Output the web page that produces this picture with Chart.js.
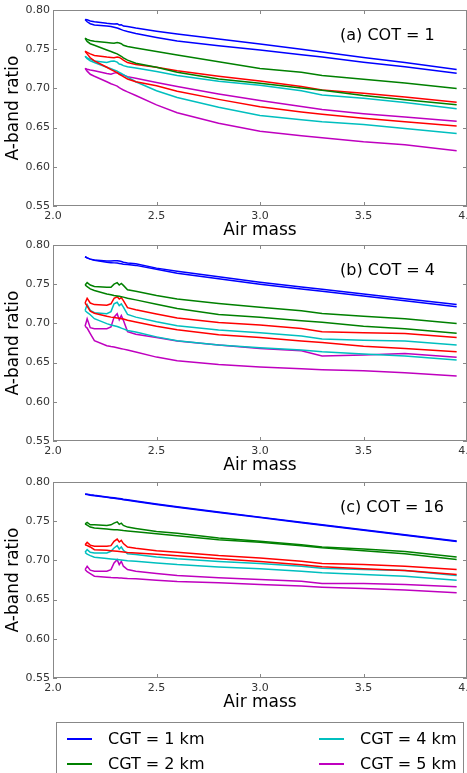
<!DOCTYPE html>
<html>
<head>
<meta charset="utf-8">
<script src="https://cdn.jsdelivr.net/npm/chart.js@4/dist/chart.umd.min.js"></script>
<style>
  html, body { margin: 0; padding: 0; background: #fff; overflow: hidden; width: 467px; height: 773px; }
  body { position: relative; font-family: "DejaVu Sans", sans-serif; }
  .pane { position: absolute; left: 0; width: 467px; height: 240px; }
  #legend { position: absolute; left: 56px; top: 722px; width: 408px; height: 80px; border: 1px solid #888; box-sizing: border-box; }
  .item { position: absolute; font-size: 16px; color: #000; line-height: 20px; white-space: nowrap; }
  .item i { position: absolute; top: 9px; width: 25px; height: 0; border-top: 2px solid; }
  .item span { position: absolute; left: 41px; top: 0; }
</style>
</head>
<body>
<div class="pane" style="top:0px"><canvas id="ca"></canvas></div>
<div class="pane" style="top:235px"><canvas id="cb"></canvas></div>
<div class="pane" style="top:472px"><canvas id="cc"></canvas></div>
<div id="legend"></div>
<script>
// Air mass values (x)
const AM = [2.155, 2.165, 2.18, 2.2, 2.26, 2.28, 2.295, 2.31, 2.32, 2.33, 2.34, 2.36, 2.4, 2.5, 2.6, 2.8, 3.0, 3.2, 3.3, 3.5, 3.7, 3.95];

// Legend categories and colours
const CGT_LABELS = ["CGT = 1 km", "CGT = 2 km", "CGT = 3 km", "CGT = 4 km", "CGT = 5 km"];
const CGT_COLORS = ["#0000ff", "#008000", "#ff0000", "#00bfbf", "#bf00bf"];
const PANEL_LABELS = ["(a) COT = 1", "(b) COT = 4", "(c) COT = 16"];
const X_TICKS = [2.0, 2.5, 3.0, 3.5, 4.0];
const Y_TICKS = [0.55, 0.60, 0.65, 0.70, 0.75, 0.80];

// Panel (a) COT = 1
const a_blue1 = [0.788,0.7875,0.786,0.785,0.783,0.7825,0.782,0.7825,0.781,0.7812,0.7795,0.779,0.777,0.773,0.7695,0.763,0.7565,0.750,0.7465,0.7395,0.733,0.7242];
const a_blue2 = [0.788,0.785,0.7825,0.781,0.7795,0.779,0.778,0.777,0.776,0.775,0.774,0.7725,0.770,0.765,0.7605,0.7545,0.749,0.743,0.740,0.7335,0.7275,0.7192];
const a_green1 = [0.764,0.7625,0.761,0.760,0.7585,0.758,0.7575,0.7585,0.758,0.757,0.755,0.7535,0.7515,0.747,0.7425,0.734,0.7255,0.7205,0.7165,0.7118,0.7068,0.700];
const a_green2 = [0.764,0.760,0.757,0.755,0.749,0.747,0.7455,0.744,0.7425,0.741,0.739,0.736,0.732,0.727,0.7205,0.712,0.7067,0.7005,0.6975,0.6908,0.6855,0.679];
const a_red1 = [0.7474,0.746,0.744,0.742,0.740,0.7395,0.739,0.740,0.7395,0.738,0.736,0.733,0.7305,0.727,0.7225,0.7155,0.7095,0.7025,0.698,0.6937,0.689,0.6824];
const a_red2 = [0.7474,0.744,0.739,0.735,0.727,0.724,0.722,0.720,0.718,0.7165,0.715,0.712,0.7085,0.7035,0.6965,0.686,0.6765,0.670,0.667,0.662,0.6575,0.652];
const a_cyan1 = [0.741,0.739,0.737,0.735,0.733,0.7345,0.7348,0.7335,0.731,0.7305,0.729,0.7275,0.726,0.7215,0.7165,0.709,0.704,0.697,0.6915,0.6874,0.682,0.674];
const a_cyan2 = [0.741,0.738,0.735,0.733,0.727,0.725,0.7235,0.722,0.7205,0.719,0.7175,0.7145,0.7085,0.697,0.6885,0.676,0.6655,0.660,0.6575,0.6538,0.649,0.6424];
const a_mag1 = [0.7256,0.7245,0.7235,0.7225,0.719,0.718,0.7195,0.7202,0.719,0.7175,0.717,0.715,0.713,0.7076,0.7025,0.693,0.6845,0.677,0.673,0.6677,0.6635,0.658];
const a_mag2 = [0.7256,0.722,0.718,0.7155,0.7085,0.706,0.7045,0.703,0.701,0.6995,0.698,0.6955,0.691,0.679,0.669,0.6555,0.6454,0.6395,0.637,0.6319,0.628,0.6206];

// Panel (b) COT = 4
const b_blue1 = [0.785,0.7835,0.782,0.781,0.7795,0.7795,0.780,0.780,0.7795,0.779,0.778,0.777,0.776,0.7705,0.7665,0.7595,0.7525,0.7465,0.7435,0.7375,0.7315,0.7242];
const b_blue2 = [0.785,0.7835,0.782,0.7805,0.778,0.7775,0.7772,0.777,0.7765,0.776,0.7755,0.775,0.774,0.769,0.764,0.757,0.750,0.744,0.741,0.735,0.729,0.7213];
const b_green1 = [0.749,0.752,0.749,0.747,0.746,0.746,0.750,0.752,0.749,0.751,0.7485,0.743,0.741,0.7355,0.731,0.7255,0.7207,0.716,0.7125,0.709,0.706,0.700];
const b_green2 = [0.749,0.747,0.744,0.742,0.7376,0.7365,0.7355,0.735,0.7345,0.734,0.7335,0.732,0.730,0.7245,0.719,0.7115,0.708,0.7035,0.7015,0.6965,0.6933,0.6875];
const b_red1 = [0.726,0.732,0.726,0.724,0.7233,0.725,0.732,0.734,0.731,0.733,0.729,0.720,0.7174,0.712,0.707,0.701,0.698,0.6935,0.6895,0.688,0.687,0.682];
const b_red2 = [0.726,0.722,0.7157,0.713,0.709,0.708,0.7075,0.707,0.7065,0.706,0.7055,0.704,0.7018,0.6965,0.692,0.6855,0.682,0.6775,0.6755,0.671,0.668,0.6638];
const b_cyan1 = [0.7165,0.724,0.7165,0.7136,0.7123,0.715,0.725,0.727,0.7228,0.725,0.7207,0.7115,0.708,0.702,0.697,0.6915,0.688,0.684,0.680,0.6786,0.6777,0.6723];
const b_cyan2 = [0.7165,0.714,0.711,0.706,0.6997,0.698,0.697,0.696,0.695,0.694,0.693,0.691,0.689,0.6828,0.678,0.6725,0.669,0.666,0.6638,0.661,0.6583,0.6533];
const b_mag1 = [0.6963,0.706,0.6946,0.6933,0.6933,0.6954,0.708,0.7123,0.7047,0.710,0.7039,0.6895,0.6862,0.682,0.6777,0.6723,0.668,0.665,0.6584,0.6596,0.6617,0.6567];
const b_mag2 = [0.6963,0.694,0.687,0.678,0.6716,0.6705,0.6698,0.669,0.6684,0.6678,0.6672,0.666,0.6635,0.657,0.6525,0.6475,0.6445,0.642,0.641,0.6395,0.637,0.633];

// Panel (c) COT = 16
const c_blue1 = [0.7848,0.7845,0.7838,0.783,0.781,0.7803,0.7798,0.7793,0.7789,0.7785,0.778,0.7773,0.7758,0.772,0.7683,0.7618,0.7552,0.7487,0.7455,0.739,0.7326,0.7247];
const c_blue2 = [0.7845,0.784,0.7832,0.7824,0.7804,0.7797,0.7792,0.7787,0.7783,0.7779,0.7774,0.7767,0.7752,0.7714,0.7677,0.7612,0.7546,0.7481,0.7449,0.7384,0.732,0.7241];
const c_green1 = [0.7467,0.7484,0.7454,0.7454,0.7446,0.7454,0.7475,0.7492,0.746,0.7475,0.7446,0.7425,0.7408,0.737,0.7345,0.7285,0.7243,0.720,0.717,0.7146,0.7112,0.7044];
const c_green2 = [0.7467,0.745,0.7425,0.7412,0.740,0.7395,0.7392,0.739,0.7388,0.7385,0.738,0.7375,0.7365,0.734,0.7315,0.7264,0.723,0.7188,0.7162,0.7124,0.7086,0.701];
const c_red1 = [0.720,0.723,0.7195,0.718,0.718,0.7188,0.7243,0.7272,0.7235,0.7255,0.7215,0.7171,0.7154,0.7124,0.7105,0.7061,0.7031,0.6989,0.696,0.6947,0.6926,0.6883];
const c_red2 = [0.720,0.719,0.7171,0.7137,0.7129,0.7124,0.712,0.7116,0.7113,0.711,0.7107,0.7102,0.7095,0.708,0.706,0.702,0.6985,0.6945,0.692,0.6895,0.687,0.682];
const c_cyan1 = [0.7103,0.7137,0.7103,0.7095,0.7095,0.7116,0.7158,0.7188,0.7145,0.7171,0.713,0.7086,0.7074,0.7044,0.702,0.6985,0.696,0.6926,0.690,0.6883,0.687,0.6807];
const c_cyan2 = [0.7103,0.708,0.7061,0.704,0.7023,0.7018,0.7014,0.701,0.7007,0.7004,0.7001,0.6995,0.6989,0.6968,0.6947,0.6917,0.6892,0.6862,0.6841,0.682,0.6799,0.6748];
const c_mag1 = [0.6883,0.6926,0.6875,0.6862,0.6862,0.6883,0.6968,0.701,0.6947,0.6989,0.6926,0.6883,0.6862,0.6832,0.6807,0.6778,0.6756,0.6735,0.6706,0.6706,0.6693,0.6663];
const c_mag2 = [0.6883,0.6855,0.6832,0.6799,0.6786,0.6782,0.678,0.6778,0.6776,0.6774,0.6772,0.6768,0.6765,0.6748,0.6731,0.6714,0.6693,0.6672,0.6659,0.6642,0.6621,0.6587];

const PANELS = [
  [[a_blue1, a_blue2], [a_green1, a_green2], [a_red1, a_red2], [a_cyan1, a_cyan2], [a_mag1, a_mag2]],
  [[b_blue1, b_blue2], [b_green1, b_green2], [b_red1, b_red2], [b_cyan1, b_cyan2], [b_mag1, b_mag2]],
  [[c_blue1, c_blue2], [c_green1, c_green2], [c_red1, c_red2], [c_cyan1, c_cyan2], [c_mag1, c_mag2]]
];

const FONT = '"DejaVu Sans", "Liberation Sans", sans-serif';

const framePlugin = {
  id: 'frame',
  afterDraw(chart, args, opts) {
    const { ctx, chartArea: ca, scales: { x, y } } = chart;
    ctx.save();
    ctx.strokeStyle = '#888';
    ctx.lineWidth = 1;
    ctx.strokeRect(Math.round(ca.left) + 0.5, Math.round(ca.top) + 0.5,
      Math.round(ca.right - ca.left) - 1, Math.round(ca.bottom - ca.top) - 1);
    ctx.beginPath();
    X_TICKS.forEach(v => {
      const px = Math.round(x.getPixelForValue(v)) + 0.5;
      ctx.moveTo(px, ca.bottom); ctx.lineTo(px, ca.bottom - 4);
      ctx.moveTo(px, ca.top); ctx.lineTo(px, ca.top + 4);
    });
    Y_TICKS.forEach(v => {
      const py = Math.round(y.getPixelForValue(v)) + 0.5;
      ctx.moveTo(ca.left, py); ctx.lineTo(ca.left + 4, py);
      ctx.moveTo(ca.right, py); ctx.lineTo(ca.right - 4, py);
    });
    ctx.stroke();
    ctx.fillStyle = '#000';
    ctx.font = '16px ' + FONT;
    ctx.textBaseline = 'middle';
    ctx.textAlign = 'left';
    ctx.fillText(opts.label, 340, ca.top + 26);
    ctx.restore();
  }
};

function makeChart(id, p) {
  const datasets = [];
  PANELS[p].forEach((pair, ci) => {
    pair.forEach((vals, k) => {
      datasets.push({
        label: CGT_LABELS[ci] + (k ? ' (2)' : ''),
        data: AM.map((xv, i) => ({ x: xv, y: vals[i] })),
        borderColor: CGT_COLORS[ci],
        backgroundColor: CGT_COLORS[ci],
        borderWidth: 1.5,
        pointRadius: 0,
        tension: 0,
        fill: false
      });
    });
  });
  return new Chart(document.getElementById(id), {
    type: 'line',
    data: { datasets },
    options: {
      responsive: false,
      animation: false,
      devicePixelRatio: 1,
      layout: { padding: { left: 0, right: 0, top: 10, bottom: 0 } },
      plugins: { legend: { display: false }, tooltip: { enabled: false }, frame: { label: PANEL_LABELS[p] } },
      scales: {
        x: {
          type: 'linear', min: 2.0, max: 4.0,
          afterBuildTicks: s => { s.ticks = X_TICKS.map(v => ({ value: v })); },
          ticks: { callback: v => Number(v).toFixed(1), color: '#333', font: { family: FONT, size: 11 }, padding: 4, maxRotation: 0, autoSkip: false },
          grid: { display: false, drawTicks: false },
          border: { display: false },
          title: { display: true, text: 'Air mass', color: '#000', font: { family: FONT, size: 17 }, padding: { top: 0, bottom: 0 } },
          afterFit: s => { s.height = 35; s.paddingLeft = 0; s.paddingRight = 0; }
        },
        y: {
          type: 'linear', min: 0.55, max: 0.80,
          afterBuildTicks: s => { s.ticks = Y_TICKS.map(v => ({ value: v })); },
          ticks: { callback: v => Number(v).toFixed(2), color: '#333', font: { family: FONT, size: 11 }, padding: 3, autoSkip: false },
          grid: { display: false, drawTicks: false },
          border: { display: false },
          title: { display: true, text: 'A-band ratio', color: '#000', font: { family: FONT, size: 17 }, padding: { top: 3, bottom: 0 } },
          afterFit: s => { s.width = 53; s.paddingTop = 0; s.paddingBottom = 0; }
        }
      }
    },
    plugins: [framePlugin]
  });
}

['ca', 'cb', 'cc'].forEach((id, p) => {
  const c = document.getElementById(id);
  c.width = 467; c.height = 241;
  c.style.width = '467px'; c.style.height = '241px';
  makeChart(id, p);
});

// HTML legend (matplotlib-style, 2 columns; third row falls below the picture)
const LEG_POS = [[10, 6], [10, 31], [10, 56], [262, 6], [262, 31]];
const leg = document.getElementById('legend');
CGT_LABELS.forEach((t, i) => {
  const d = document.createElement('div');
  d.className = 'item';
  d.style.left = LEG_POS[i][0] + 'px';
  d.style.top = LEG_POS[i][1] + 'px';
  const ln = document.createElement('i');
  ln.style.borderColor = CGT_COLORS[i];
  const sp = document.createElement('span');
  sp.textContent = t;
  d.appendChild(ln); d.appendChild(sp);
  leg.appendChild(d);
});
</script>
</body>
</html>
